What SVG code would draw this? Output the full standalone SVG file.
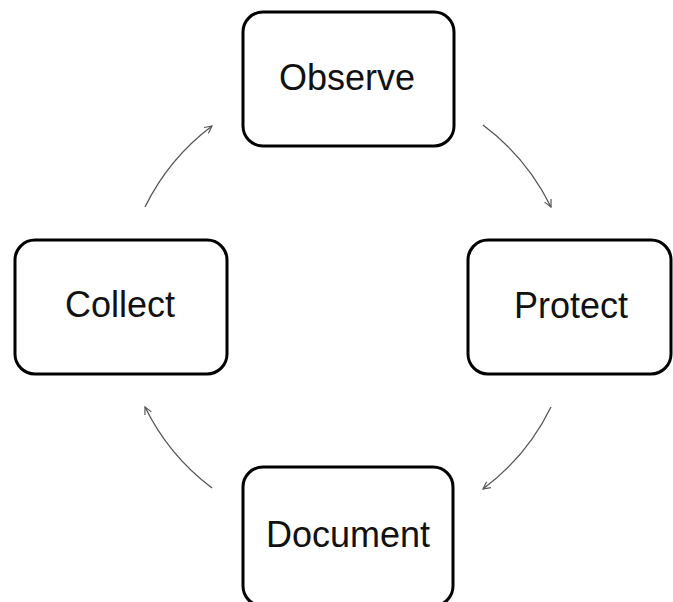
<svg xmlns="http://www.w3.org/2000/svg" width="673" height="602" viewBox="0 0 673 602">
<style>
.box{fill:#fff;stroke:#000;stroke-width:3}
.lbl{font-family:"Liberation Sans",Arial,sans-serif;font-size:36px;fill:#111;text-anchor:middle}
.arr{fill:none;stroke:#555;stroke-width:1.3;marker-end:url(#ah)}
</style>
<defs>
<marker id="ah" viewBox="0 0 10 10" refX="9" refY="5" markerWidth="9" markerHeight="9" markerUnits="userSpaceOnUse" orient="auto">
<path d="M1,1 L9,5 L1,9" fill="none" stroke="#555" stroke-width="1.3"/>
</marker>
</defs>
<rect width="673" height="602" fill="#fff"/>
<g id="connectors">
<path class="arr" d="M145,207 A226,226 0 0 1 212,126"/>
<path class="arr" d="M483,125 A226,226 0 0 1 551,207"/>
<path class="arr" d="M551,407 A226,226 0 0 1 483,489"/>
<path class="arr" d="M212,488 A226,226 0 0 1 145,407"/>
</g>
<g id="observe">
<rect class="box" x="243" y="12" width="211" height="134" rx="20"/>
<text class="lbl" x="347" y="90">Observe</text>
</g>
<g id="protect">
<rect class="box" x="468" y="240" width="203" height="134" rx="20"/>
<text class="lbl" x="571" y="318">Protect</text>
</g>
<g id="collect">
<rect class="box" x="15" y="240" width="212" height="134" rx="20"/>
<text class="lbl" x="120" y="317">Collect</text>
</g>
<g id="document">
<rect class="box" x="243" y="467" width="210" height="139" rx="20"/>
<text class="lbl" x="348" y="547">Document</text>
</g>
</svg>
